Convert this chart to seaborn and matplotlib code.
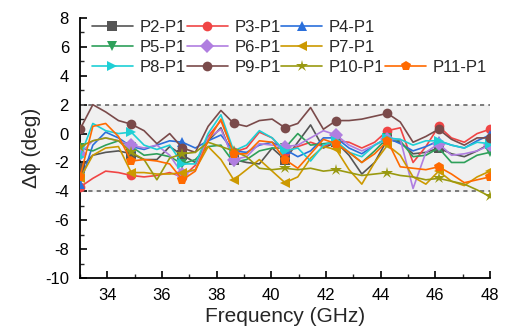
import numpy as np
import pandas as pd
import matplotlib
matplotlib.use("Agg")
import matplotlib.pyplot as plt
from matplotlib.lines import Line2D
import seaborn as sns

# Frequency grid (GHz), 33 points between 33 and 48
freq = np.linspace(33, 48, 33)

p2 = [-2.4, -1.5, -1.3, -1.2, -1.4, -1.8, -1.8, -0.9, -1.5, -2.0, -0.5, 0.4, -1.8, -2.0, -2.1, -1.0, -1.8,
      -0.6, 0.6, -1.0, -0.6, -1.5, -2.8, -2.0, -0.4, -0.6, -1.4, -1.3, -1.0, -1.4, -1.6, -1.2, -0.7]
p3 = [-3.7, -3.1, -2.6, -2.7, -2.9, -3.0, -2.9, -2.7, -3.0, -2.2, -0.2, 0.9, -1.3, -1.0, 0.1, -0.3, -1.3,
      -0.9, -0.6, -0.9, -0.5, -0.6, -1.0, -0.6, 0.2, 0.4, -2.0, -0.9, 0.5, -0.3, -0.6, 0.0, 0.3]
p4 = [-3.5, -0.8, 0.1, -0.3, -0.9, -1.1, -0.8, -0.5, -0.6, -1.0, -0.5, -0.1, -1.2, -1.3, -0.8, -0.6, -1.1,
      -1.6, -1.2, -0.3, -0.3, -1.0, -1.4, -0.8, -0.3, -0.7, -1.2, -0.9, -0.5, -0.8, -1.0, -0.5, -0.1]
p5 = [-1.0, -1.2, -0.8, -0.5, -0.9, -1.5, -1.4, -1.6, -2.1, -1.8, -0.9, -0.8, -2.0, -1.8, -1.2, -1.0, -1.0,
      0.0, -0.8, -0.7, -0.6, -1.3, -2.0, -1.2, -0.3, -0.5, -1.6, -1.5, -1.0, -2.0, -2.0, -1.5, -1.3]
p6 = [-1.4, -0.5, -0.3, -0.5, -0.8, -1.0, -0.8, -1.5, -2.8, -2.5, -0.3, 0.3, -1.8, -1.6, -0.7, -0.8, -0.9,
      -0.8, -0.3, 0.2, -0.1, -0.8, -1.2, -0.8, -0.4, -0.4, -3.8, -1.3, -0.7, -1.5, -1.4, -1.2, -0.8]
p7 = [-3.1, -1.5, -1.0, -0.9, -2.7, -2.7, -2.8, -2.8, -2.7, -2.5, -0.9, -1.8, -3.2, -2.5, -1.8, -2.6, -3.4,
      -3.0, -1.7, -0.9, -1.1, -2.5, -3.5, -2.0, -0.8, -1.5, -3.0, -3.5, -2.6, -3.3, -3.6, -3.0, -2.6]
p8 = [-1.6, 0.7, 0.2, 0.0, 0.1, -0.8, -1.1, -0.8, -2.1, -2.1, 0.0, 1.3, -1.2, -0.8, 0.2, -0.3, -1.2,
      -1.0, -1.9, -0.8, -0.5, -1.3, -1.6, -0.8, -0.3, -0.4, -0.8, -0.5, -0.5, -0.8, -1.0, -0.6, -0.7]
p9 = [0.3, 2.0, 1.5, 0.9, 0.65, 0.2, -0.7, 0.0, -1.0, -1.3, 0.5, 1.6, 0.7, 0.5, 0.9, 1.0, 0.4,
      0.7, 1.8, 0.3, 0.9, 0.9, 1.0, 1.2, 1.4, 0.8, -0.6, -0.2, 0.3, -0.4, -0.8, -0.3, -0.3]
p10 = [-0.9, -0.5, -0.3, -0.5, -1.3, -1.8, -3.2, -1.7, -1.4, -1.3, -0.6, -0.9, -1.2, -1.6, -2.4, -2.5, -2.4,
       -2.5, -2.4, -2.6, -2.5, -2.7, -2.9, -2.8, -2.7, -2.9, -3.0, -3.2, -3.1, -3.3, -3.5, -3.9, -4.35]
p11 = [-3.0, 0.5, 0.7, -0.2, -1.9, -1.8, -1.9, -2.1, -3.2, -2.6, -0.5, 1.0, -1.4, -1.4, -0.5, -0.6, -1.8,
       -2.4, -1.4, -0.4, -0.7, -1.3, -2.0, -1.4, -0.5, -2.3, -2.4, -2.5, -2.3, -2.8, -3.4, -3.2, -3.0]

labels = ["P2-P1", "P3-P1", "P4-P1", "P5-P1", "P6-P1", "P7-P1", "P8-P1", "P9-P1", "P10-P1", "P11-P1"]
series = [p2, p3, p4, p5, p6, p7, p8, p9, p10, p11]
colors = ["#555555", "#f04545", "#2a6fdb", "#2ea05a", "#b07ee0", "#cc9900", "#1ecfd5", "#7a4a4a",
          "#999910", "#ff6a00"]
markers = ["s", "o", "^", "v", "D", "<", ">", "o", "*", "p"]

band_lo, band_hi = -4, 2

sns.set_theme(style="ticks")
plt.rcParams["font.family"] = ["Liberation Sans", "DejaVu Sans"]
plt.rcParams["axes.unicode_minus"] = False

fig, ax = plt.subplots(figsize=(5.13, 3.33), dpi=100)
fig.subplots_adjust(left=0.156, right=0.955, bottom=0.165, top=0.946)

# bande grise de tolérance
ax.axhspan(band_lo, band_hi, color="#f0f0f0", zorder=0)
for yv in (band_lo, band_hi):
    ax.axhline(yv, color="#666666", lw=1.2, ls=(0, (2.5, 2.5)), zorder=1)

handles = {}
for lab, vals, c, m in zip(labels, series, colors, markers):
    df = pd.DataFrame({"f": freq, "phi": vals})
    ms = 9 if m == "*" else 7
    sns.lineplot(data=df, x="f", y="phi", ax=ax, color=c, lw=1.2, marker=m, markersize=ms,
                 markeredgewidth=0, markevery=4, zorder=3)
    handles[lab] = Line2D([], [], color=c, lw=1.2, marker=m, markersize=ms, markeredgewidth=0)

# ordre colonne par colonne pour reproduire les 3 lignes de légende
blank = Line2D([], [], color="none")
order = ["P2-P1", "P5-P1", "P8-P1", "P3-P1", "P6-P1", "P9-P1", "P4-P1", "P7-P1", "P10-P1", None, None, "P11-P1"]
leg_h = [handles[o] if o else blank for o in order]
leg_l = [o if o else "" for o in order]
ax.legend(leg_h, leg_l, ncol=4, loc="upper left", bbox_to_anchor=(0.005, 1.03), frameon=False,
          fontsize=12, handlelength=2.45, handletextpad=0.4, columnspacing=0.05, labelspacing=0.3,
          borderaxespad=0.2)

ax.set_xlim(33, 48)
ax.set_ylim(-10, 8)
ax.set_xticks(np.arange(34, 49, 2))
ax.set_yticks(np.arange(-10, 9, 2))
ax.set_xticks(np.arange(33, 49, 1), minor=True)
ax.set_yticks(np.arange(-10, 9, 1), minor=True)
ax.tick_params(which="major", direction="in", length=5, width=1.2, labelsize=12, colors="black")
ax.tick_params(axis="x", which="major", pad=7)
ax.tick_params(axis="y", which="major", pad=8)
ax.tick_params(which="minor", direction="in", length=3, width=1.0)
for s in ("left", "bottom"):
    ax.spines[s].set_linewidth(1.3)
    ax.spines[s].set_color("black")
sns.despine(ax=ax)

ax.set_xlabel("Frequency (GHz)", fontsize=15, labelpad=3)
ax.set_ylabel("Δϕ (deg)", fontsize=15, labelpad=3)

fig.savefig("out.png", dpi=100)
